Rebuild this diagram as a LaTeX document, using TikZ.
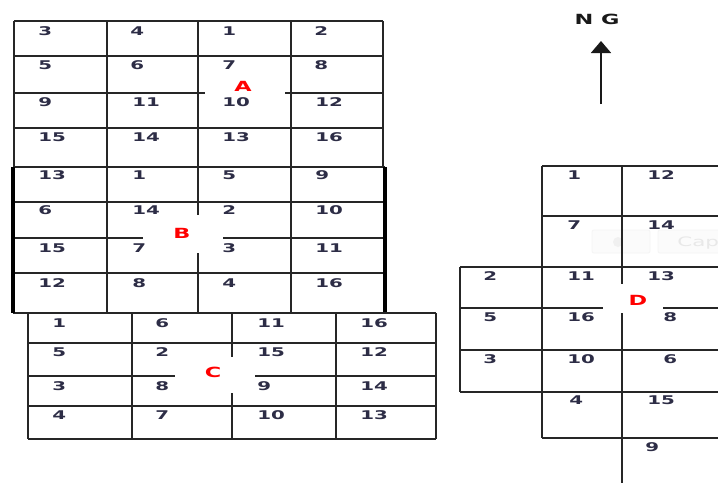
\documentclass[tikz,border=0pt]{standalone}
\usepackage{fontspec}
\setmainfont{DejaVu Sans}
\usepackage{tikz}
\usetikzlibrary{arrows.meta}
\definecolor{numink}{RGB}{45,45,70}
\tikzset{
  gridline/.style = {line width=1.2pt, black!85},
  sideline/.style = {line width=3.6pt, black},
  cellnum/.style  = {font=\fontsize{12}{14}\selectfont\bfseries, text=numink, anchor=west, inner sep=0pt, xscale=1.65},
  plotname/.style = {font=\fontsize{14}{16}\selectfont\bfseries, text=red, inner sep=0pt, xscale=1.6},
  northarrow/.style = {-{Triangle[width=20pt,length=12pt]}, line width=1.8pt, black!90},
  ghost/.style = {draw=gray!8, fill=gray!3, rounded corners=2pt, line width=0.8pt},
}
\newcommand{\numrow}[3]{%
  \foreach \cx/\cn [count=\ci] in {#3}
    \node[cellnum] (#1-\ci-#2) at (\cx,#2) {\cn};
}

\begin{document}
\begin{tikzpicture}[x=1pt,y=-1pt]
  \useasboundingbox (0,0) rectangle (718,483);
  \clip (0,0) rectangle (718,483);
  \fill[white] (0,0) rectangle (718,483);
  % faint screenshot overlay
  \draw[ghost] (592,230) rectangle (650,253);
  \draw[ghost] (658,230) rectangle (740,253);
  \fill[gray!12] (618,242) circle [radius=5];
  \node[cellnum, text=gray!18, font=\fontsize{13}{15}\selectfont, xscale=1.0] (capghost) at (677,243) {Cap};
  % plot A
  \foreach \gx in {14,107,198,291,383} \draw[gridline] (\gx,21) -- (\gx,167);
  \foreach \gy in {21,56,93,128} \draw[gridline] (14,\gy) -- (383,\gy);
  % plot B
  \foreach \gx in {107,198,291} \draw[gridline] (\gx,167) -- (\gx,313);
  \foreach \gy in {167,202,238,273,313} \draw[gridline] (13,\gy) -- (385,\gy);
  \draw[sideline] (13,167) -- (13,313);
  \draw[sideline] (385,167) -- (385,313);
  % plot C
  \foreach \gx in {28,132,232,336,436} \draw[gridline] (\gx,313) -- (\gx,439);
  \foreach \gy in {313,343,376,406,439} \draw[gridline] (28,\gy) -- (436,\gy);
  % plot D
  \draw[gridline] (542,166) -- (542,438);
  \draw[gridline] (622,166) -- (622,483);
  \draw[gridline] (460,267) -- (460,392);
  \foreach \gy in {166,216,438} \draw[gridline] (542,\gy) -- (720,\gy);
  \foreach \gy in {267,308,350,392} \draw[gridline] (460,\gy) -- (720,\gy);
  % label boxes
  \fill[white] (205,78) rectangle (285,97);
  \fill[white] (143,215) rectangle (223,253);
  \fill[white] (175,357) rectangle (255,393);
  \fill[white] (603,284) rectangle (663,313);
  \node[plotname] (plotA) at (243,86) {A};
  \node[plotname] (plotB) at (182,233) {B};
  \node[plotname] (plotC) at (213,372) {C};
  \node[plotname] (plotD) at (638,300) {D};
  % numbers
  \numrow{a}{31}{38/3, 130/4, 222/1, 314/2}
  \numrow{a}{65}{38/5, 130/6, 222/7, 314/8}
  \numrow{a}{102}{38/9, 132/11, 222/10, 315/12}
  \numrow{a}{137}{38/15, 132/14, 222/13, 315/16}
  \numrow{b}{175}{38/13, 132/1, 222/5, 315/9}
  \numrow{b}{210}{38/6, 132/14, 222/2, 315/10}
  \numrow{b}{248}{38/15, 132/7, 222/3, 315/11}
  \numrow{b}{283}{38/12, 132/8, 222/4, 315/16}
  \numrow{c}{323}{52/1, 155/6, 257/11, 360/16}
  \numrow{c}{352}{52/5, 155/2, 257/15, 360/12}
  \numrow{c}{386}{52/3, 155/8, 257/9, 360/14}
  \numrow{c}{415}{52/4, 155/7, 257/10, 360/13}
  \numrow{d}{175}{567/1, 647/12}
  \numrow{d}{225}{567/7, 647/14}
  \numrow{d}{276}{483/2, 567/11, 647/13}
  \numrow{d}{317}{483/5, 567/16, 663/8}
  \numrow{d}{359}{483/3, 567/10, 663/6}
  \numrow{d}{400}{569/4, 647/15}
  \numrow{d}{447}{645/9}
  % north arrow
  \node[font=\fontsize{14}{16}\selectfont\bfseries, text=black!90, inner sep=0pt, xscale=1.6] (ng) at (597,19) {N G};
  \coordinate (ngtail) at (601,104);
  \coordinate (ngtip) at (601,41);
  \draw[northarrow] (ngtail) -- (ngtip);
\end{tikzpicture}
\end{document}
